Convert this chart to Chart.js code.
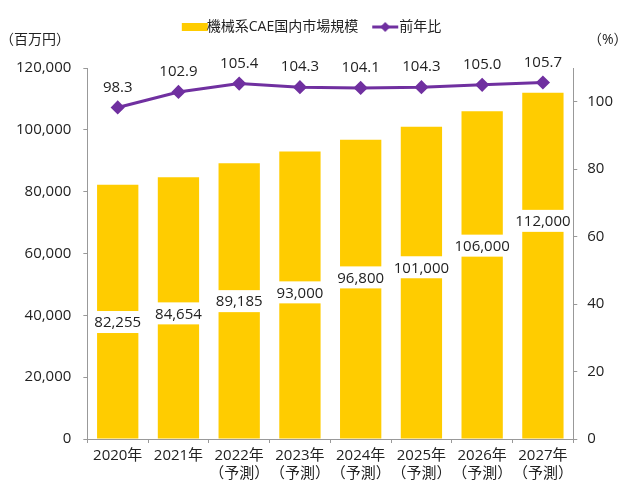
<!DOCTYPE html>
<html>
<head>
<meta charset="utf-8">
<script src="https://cdn.jsdelivr.net/npm/chart.js@4"></script>
<style>
  body { margin: 0; background: #fff; }
  #wrap { width: 641px; height: 489px; }
</style>
</head>
<body>
<div id="wrap"><canvas id="myChart" width="641" height="489"></canvas></div>
<script>
const years = ["2020年", "2021年", "2022年", "2023年", "2024年", "2025年", "2026年", "2027年"];
const forecast = [false, false, true, true, true, true, true, true];
const marketSize = [82255, 84654, 89185, 93000, 96800, 101000, 106000, 112000];
const yoy = [98.3, 102.9, 105.4, 104.3, 104.1, 104.3, 105.0, 105.7];
const leftTicks = [0, 20000, 40000, 60000, 80000, 100000, 120000];
const rightTicks = [0, 20, 40, 60, 80, 100];

const barColor = "#FFCC00";
const lineColor = "#7030A0";
const font = "'Open Sans', 'Noto Sans CJK JP', sans-serif";

// where the bar labels sit, as a share of each bar's height
const labelShare = [0.46, 0.48, 0.5, 0.51, 0.54, 0.55, 0.59, 0.63];

const labels = years.map((y, i) => forecast[i] ? [y, "（予測）"] : y);

function legendIcon(kind) {
  const c = document.createElement("canvas");
  c.width = 34; c.height = 12;
  const g = c.getContext("2d");
  if (kind === "bar") {
    g.fillStyle = barColor;
    g.fillRect(6, 2, 26, 8);
  } else {
    g.strokeStyle = lineColor;
    g.lineWidth = 3;
    g.beginPath(); g.moveTo(4, 6); g.lineTo(30, 6); g.stroke();
    g.fillStyle = lineColor;
    g.beginPath(); g.moveTo(17, 1); g.lineTo(22, 6); g.lineTo(17, 11); g.lineTo(12, 6); g.closePath(); g.fill();
  }
  return c;
}

// extra room under the legend for the axis unit captions
const legendGap = {
  id: "legendGap",
  beforeInit(chart) {
    const fit = chart.legend.fit;
    chart.legend.fit = function () {
      fit.bind(chart.legend)();
      this.height += 24;
    };
  }
};

const valueLabels = {
  id: "valueLabels",
  afterDatasetsDraw(chart) {
    const ctx = chart.ctx;
    const bars = chart.getDatasetMeta(0).data;
    const pts = chart.getDatasetMeta(1).data;
    const yScale = chart.scales.y;
    ctx.save();
    ctx.font = "15px " + font;
    ctx.textAlign = "center";
    ctx.textBaseline = "middle";
    bars.forEach((b, i) => {
      const txt = marketSize[i].toLocaleString("en-US");
      const y = yScale.getPixelForValue(marketSize[i] * labelShare[i]);
      const w = ctx.measureText(txt).width + 4;
      ctx.fillStyle = "#fff";
      ctx.fillRect(b.x - w / 2, y - 11, w, 22);
      ctx.fillStyle = "#222";
      ctx.fillText(txt, b.x, y + 1);
    });
    pts.forEach((p, i) => {
      ctx.fillStyle = "#222";
      ctx.fillText(yoy[i].toFixed(1), p.x, p.y - 20);
    });
    // axis units
    ctx.font = "14px " + font;
    ctx.textAlign = "left";
    ctx.fillText("（百万円）", 0, 40);
    ctx.fillText("（%）", 588, 40);
    ctx.restore();
  }
};

const ctx = document.getElementById("myChart").getContext("2d");
new Chart(ctx, {
  data: {
    labels: labels,
    datasets: [
      {
        type: "bar",
        label: "機械系CAE国内市場規模",
        data: marketSize,
        backgroundColor: barColor,
        yAxisID: "y",
        barPercentage: 0.68,
        categoryPercentage: 1,
        order: 2
      },
      {
        type: "line",
        label: "前年比",
        data: yoy,
        borderColor: lineColor,
        backgroundColor: lineColor,
        borderWidth: 3,
        pointStyle: "rectRot",
        pointRadius: 5,
        pointHoverRadius: 5,
        yAxisID: "y1",
        order: 1
      }
    ]
  },
  options: {
    responsive: false,
    animation: false,
    layout: { padding: { left: 4, right: 18, top: 0, bottom: 2 } },
    plugins: {
      tooltip: { enabled: false },
      legend: {
        position: "top",
        labels: {
          usePointStyle: true,
          padding: 20,
          color: "#222",
          font: { family: font, size: 14 },
          generateLabels(chart) {
            return chart.data.datasets.map((d, i) => ({
              text: d.label,
              pointStyle: legendIcon(i === 0 ? "bar" : "line"),
              fontColor: "#222",
              datasetIndex: i,
              hidden: false,
              lineWidth: 0
            }));
          }
        }
      }
    },
    scales: {
      x: {
        grid: { display: true, drawOnChartArea: false, tickLength: 4, color: "#999", offset: true },
        border: { color: "#999" },
        ticks: { color: "#222", font: { family: font, size: 15 }, maxRotation: 0, autoSkip: false, padding: 4 }
      },
      y: {
        position: "left",
        min: 0,
        max: 120000,
        afterBuildTicks(axis) { axis.ticks = leftTicks.map(v => ({ value: v })); },
        grid: { display: true, drawOnChartArea: false, tickLength: 4, color: "#999" },
        border: { color: "#999" },
        ticks: {
          color: "#222",
          font: { family: font, size: 15 },
          padding: 12,
          callback: v => v.toLocaleString("en-US")
        }
      },
      y1: {
        position: "right",
        min: 0,
        max: 110,
        afterBuildTicks(axis) { axis.ticks = rightTicks.map(v => ({ value: v })); },
        grid: { display: true, drawOnChartArea: false, tickLength: 4, color: "#999" },
        border: { color: "#999" },
        ticks: { color: "#222", font: { family: font, size: 15 }, padding: 10 }
      }
    }
  },
  plugins: [legendGap, valueLabels]
});
</script>
</body>
</html>
